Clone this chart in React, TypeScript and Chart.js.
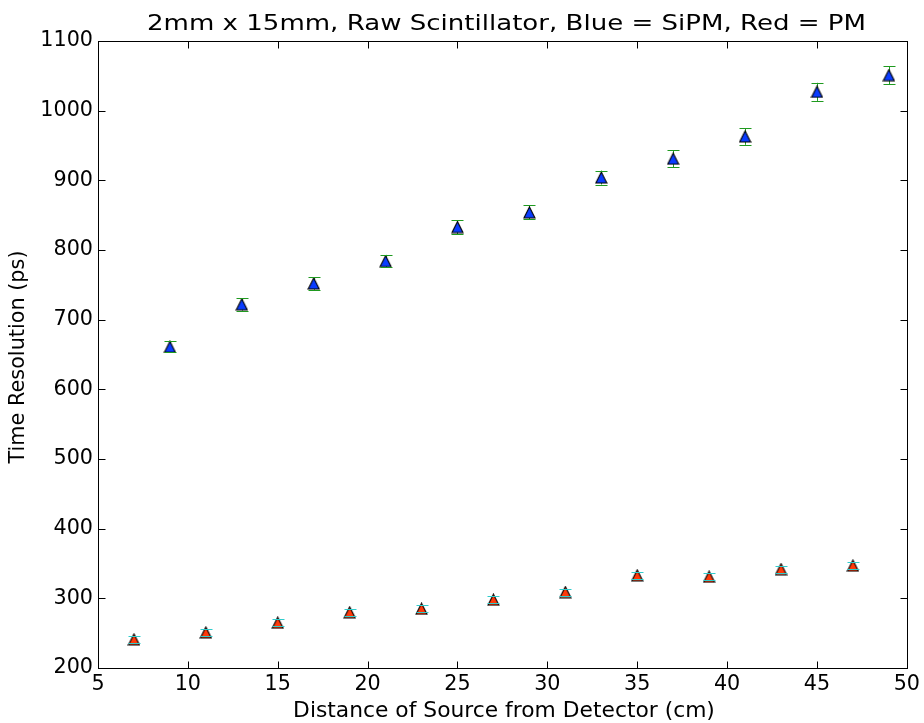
import { useEffect, useRef } from 'react';
import { Chart, registerables } from 'chart.js';

Chart.register(...registerables);

const sipmDistance = [9, 13, 17, 21, 25, 29, 33, 37, 41, 45, 49];
const sipmResolution = [661, 722, 752, 784, 833, 854, 904, 931, 963, 1027, 1051];
const sipmError = [8, 9, 9, 9, 10, 10, 10, 12, 12, 13, 13];

const pmDistance = [7, 11, 15, 19, 23, 27, 31, 35, 39, 43, 47];
const pmResolution = [241, 251, 265, 280, 285, 298, 309, 333, 331, 342, 347];
const pmError = [5, 5, 5, 5, 5, 5, 5, 5, 5, 5, 5];

const xTicks = [5, 10, 15, 20, 25, 30, 35, 40, 45, 50];
const yTicks = [200, 300, 400, 500, 600, 700, 800, 900, 1000, 1100];

const titleText = '2mm x 15mm, Raw Scintillator, Blue = SiPM, Red = PM';
const xLabel = 'Distance of Source from Detector (cm)';
const yLabel = 'Time Resolution (ps)';

const FONT = '"DejaVu Sans", "Liberation Sans", sans-serif';

function triangle(fill: string) {
  const c = document.createElement('canvas');
  c.width = 13;
  c.height = 13;
  const g = c.getContext('2d')!;
  g.beginPath();
  g.moveTo(6.5, 1);
  g.lineTo(12, 12);
  g.lineTo(1, 12);
  g.closePath();
  g.fillStyle = fill;
  g.fill();
  g.lineWidth = 1.1;
  g.strokeStyle = '#000';
  g.stroke();
  return c;
}

const errorBars = {
  id: 'errorBars',
  beforeDatasetsDraw(chart: any) {
    const ctx = chart.ctx;
    const y = chart.scales.y;
    chart.data.datasets.forEach((ds: any, di: number) => {
      const meta = chart.getDatasetMeta(di);
      ctx.save();
      ctx.strokeStyle = ds.errorColor;
      ctx.lineWidth = 1;
      meta.data.forEach((pt: any, i: number) => {
        const v = ds.data[i].y;
        const e = ds.errors[i];
        const x = Math.round(pt.x) + 0.5;
        ctx.beginPath();
        ctx.moveTo(x, y.getPixelForValue(v + e));
        ctx.lineTo(x, y.getPixelForValue(v - e));
        ctx.stroke();
      });
      ctx.restore();
    });
  },
  afterDatasetsDraw(chart: any) {
    const ctx = chart.ctx;
    const y = chart.scales.y;
    chart.data.datasets.forEach((ds: any, di: number) => {
      const meta = chart.getDatasetMeta(di);
      ctx.save();
      ctx.strokeStyle = ds.errorColor;
      ctx.lineWidth = 1;
      meta.data.forEach((pt: any, i: number) => {
        const v = ds.data[i].y;
        const e = ds.errors[i];
        const x = Math.round(pt.x);
        [v + e, v - e].forEach((val) => {
          const py = Math.round(y.getPixelForValue(val)) + 0.5;
          ctx.beginPath();
          ctx.moveTo(x - 5.5, py);
          ctx.lineTo(x + 6.5, py);
          ctx.stroke();
        });
      });
      ctx.restore();
    });
  },
};

const frame = {
  id: 'frame',
  afterDraw(chart: any) {
    const ctx = chart.ctx;
    const { left, right, top, bottom } = chart.chartArea;
    const xs = chart.scales.x;
    const ys = chart.scales.y;
    ctx.save();
    ctx.strokeStyle = '#000';
    ctx.lineWidth = 1;
    const L = Math.round(left) + 0.5;
    const R = Math.round(right) + 0.5;
    const T = Math.round(top) + 0.5;
    const B = Math.round(bottom) + 0.5;
    ctx.strokeRect(L, T, R - L, B - T);
    ctx.beginPath();
    xTicks.forEach((v) => {
      const px = Math.round(xs.getPixelForValue(v)) + 0.5;
      ctx.moveTo(px, B);
      ctx.lineTo(px, B - 7);
      ctx.moveTo(px, T);
      ctx.lineTo(px, T + 7);
    });
    yTicks.forEach((v) => {
      const py = Math.round(ys.getPixelForValue(v)) + 0.5;
      ctx.moveTo(L, py);
      ctx.lineTo(L + 7, py);
      ctx.moveTo(R, py);
      ctx.lineTo(R - 7, py);
    });
    ctx.stroke();

    ctx.fillStyle = '#000';
    ctx.textBaseline = 'alphabetic';
    ctx.textAlign = 'center';

    // title
    ctx.save();
    ctx.font = `21.5px ${FONT}`;
    const tw = ctx.measureText(titleText).width;
    const sx = 719 / tw;
    ctx.translate(506.5, 30);
    ctx.scale(sx, 1);
    ctx.fillText(titleText, 0, 0);
    ctx.restore();

    ctx.font = `21.8px ${FONT}`;
    ctx.fillText(xLabel, 504, 717);
    ctx.translate(24, 357);
    ctx.rotate(-Math.PI / 2);
    ctx.font = `20.8px ${FONT}`;
    ctx.fillText(yLabel, 0, 0);
    ctx.restore();
  },
};

export default function App() {
  const ref = useRef<HTMLCanvasElement>(null);
  useEffect(() => {
    const canvas = ref.current!;
    const chart = new Chart(canvas, {
      type: 'scatter',
      data: {
        datasets: [
          {
            label: 'SiPM',
            data: sipmDistance.map((x, i) => ({ x, y: sipmResolution[i] })),
            errors: sipmError,
            errorColor: '#1f9a1f',
            pointStyle: triangle('#0a3cff'),
            showLine: false,
          } as any,
          {
            label: 'PM',
            data: pmDistance.map((x, i) => ({ x, y: pmResolution[i] })),
            errors: pmError,
            errorColor: '#30cccc',
            pointStyle: triangle('#ff3a0a'),
            showLine: false,
          } as any,
        ],
      },
      options: {
        responsive: false,
        animation: false,
        devicePixelRatio: 1,
        layout: { padding: { top: 41, right: 16, left: 0, bottom: 0 } },
        plugins: { legend: { display: false }, tooltip: { enabled: false }, title: { display: false } },
        scales: {
          x: {
            type: 'linear',
            min: 5,
            max: 50,
            afterBuildTicks: (s: any) => {
              s.ticks = xTicks.map((v) => ({ value: v }));
            },
            afterFit: (s: any) => {
              s.height = 55;
            },
            grid: { display: false, drawTicks: false },
            border: { display: false },
            ticks: {
              color: '#000',
              font: { family: FONT, size: 20.7 },
              padding: 4,
              maxRotation: 0,
              callback: (v: any) => String(v),
            },
          },
          y: {
            type: 'linear',
            min: 200,
            max: 1100,
            afterBuildTicks: (s: any) => {
              s.ticks = yTicks.map((v) => ({ value: v }));
            },
            afterFit: (s: any) => {
              s.width = 98;
            },
            grid: { display: false, drawTicks: false },
            border: { display: false },
            ticks: {
              color: '#000',
              font: { family: FONT, size: 20.7 },
              padding: 5,
              callback: (v: any) => String(v),
            },
          },
        },
      },
      plugins: [errorBars, frame],
    } as any);
    return () => chart.destroy();
  }, []);
  return (
    <div style={{ position: 'absolute', left: 0, top: 0, width: 924, height: 723 }}>
      <canvas ref={ref} width={924} height={723} style={{ display: 'block' }} />
    </div>
  );
}
